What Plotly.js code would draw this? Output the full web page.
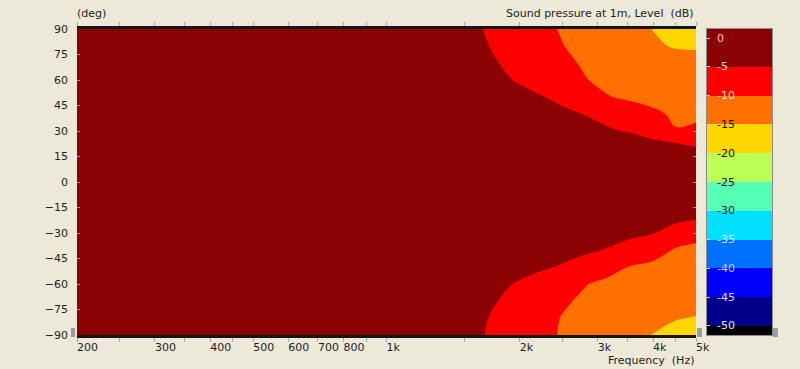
<!DOCTYPE html>
<html><head><meta charset="utf-8">
<script src="https://cdn.plot.ly/plotly-3.0.1.min.js"></script>
<style>html,body{margin:0;padding:0;background:#ece9d8;}#chart{width:800px;height:369px;}</style>
</head><body><div id="chart"></div>
<script>
// Frequencies (Hz) of the grid columns
const freqs = [200, 1000, 1400, 1600, 1800, 2000, 2250, 2500, 2800, 3150, 3550, 4000, 4500, 5000];
// Angles (deg) of the grid rows
const angles = [-90, -80, -70, -60, -50, -40, -30, -20, -10, 0, 10, 20, 30, 40, 50, 60, 70, 80, 90];
// Sound pressure level (dB, normalised) per angle row
const splM90 = [0, -1.0, -3.0, -4.5, -6.0, -7.5, -9.0, -10.4, -11.5, -12.7, -13.9, -15.1, -16.2, -16.8];
const splM80 = [0, -1.0, -2.8, -4.3, -5.7, -7.3, -8.8, -10.2, -11.3, -12.3, -13.2, -14.0, -14.8, -15.2];
const splM70 = [0, -0.8, -2.4, -3.7, -5.1, -6.5, -8.0, -9.5, -10.6, -11.6, -12.4, -13.0, -13.4, -13.6];
const splM60 = [0, -0.6, -1.9, -3.0, -4.3, -5.4, -6.9, -8.3, -9.8, -10.9, -11.7, -12.2, -12.4, -12.3];
const splM50 = [0, -0.5, -1.4, -2.1, -2.9, -3.7, -4.5, -5.4, -6.8, -8.5, -10.2, -11.0, -11.4, -11.3];
const splM40 = [0, -0.4, -1.0, -1.4, -1.9, -2.4, -3.0, -3.6, -4.3, -5.2, -6.6, -8.2, -10.4, -10.3];
const splM30 = [0, -0.3, -0.6, -0.9, -1.2, -1.6, -2.0, -2.5, -3.0, -3.5, -4.1, -4.8, -7.5, -9.57];
const splM20 = [0, -0.2, -0.4, -0.5, -0.7, -0.8, -1.0, -1.2, -1.4, -1.6, -1.8, -2.0, -3.0, -3.56];
const splM10 = [0, -0.1, -0.2, -0.3, -0.4, -0.5, -0.6, -0.7, -0.8, -0.9, -1.0, -1.2, -1.5, -2.0];
const spl0   = [0, 0, -0.1, -0.1, -0.2, -0.2, -0.3, -0.3, -0.4, -0.4, -0.5, -0.5, -0.6, -0.8];
const splP10 = [0, -0.1, -0.2, -0.3, -0.4, -0.5, -0.6, -0.7, -0.8, -0.9, -1.0, -1.1, -1.4, -2.0];
const splP20 = [0, -0.2, -0.4, -0.5, -0.7, -0.8, -1.0, -1.2, -1.4, -1.6, -1.6, -2.2, -3.0, -4.7];
const splP30 = [0, -0.3, -0.7, -1.0, -1.4, -1.9, -2.5, -3.1, -3.7, -4.4, -5.4, -7.6, -9.85, -9.8];
const splP40 = [0, -0.4, -1.0, -1.5, -2.1, -2.7, -3.4, -4.2, -5.1, -6.5, -8.0, -9.4, -10.5, -10.2];
const splP50 = [0, -0.5, -1.4, -2.2, -3.0, -3.9, -4.9, -6.0, -7.6, -9.8, -10.6, -11.0, -11.4, -11.3];
const splP60 = [0, -0.6, -1.9, -3.0, -4.3, -5.4, -6.9, -8.3, -9.8, -10.9, -11.7, -12.2, -12.4, -12.5];
const splP70 = [0, -0.8, -2.3, -3.6, -5.05, -6.4, -7.9, -9.2, -10.4, -11.3, -12.0, -12.5, -12.9, -13.1];
const splP80 = [0, -0.9, -2.7, -4.3, -5.6, -7.0, -8.5, -9.9, -11.2, -12.3, -13.4, -14.3, -15.4, -15.6];
const splP90 = [0, -1.0, -3.0, -4.6, -6.1, -7.5, -9.0, -10.4, -11.5, -12.7, -13.9, -15.1, -16.2, -16.8];

// Contour levels (dB) and the band colours (below -50 ... above -5)
const levels = [-50, -45, -40, -35, -30, -25, -20, -15, -10, -5];
const bandColors = ['#000000', '#00008a', '#0000ff', '#0070ff', '#00e1ff', '#55ffb4', '#bbff55', '#ffd700', '#ff7000', '#ff0000', '#8b0000'];
// Colour bar labels and their text colours
const cbLabels = ['0', '-5', '-10', '-15', '-20', '-25', '-30', '-35', '-40', '-45', '-50'];
const cbLabelValues = [0, -5, -10, -15, -20, -25, -30, -35, -40, -45, -50];
const cbLabelColors = ['#ffc4c4', '#ffd6d6', '#ffe2c0', '#1a1a00', '#111111', '#111111', '#0a2a30', '#cfe6ff', '#c8c8ff', '#dcdcff', '#e6e6ff'];

// X axis ticks
const xTickVals = [200, 250, 300, 350, 400, 450, 500, 600, 700, 800, 900, 1000, 1500, 2000, 2500, 3000, 3500, 4000, 4500, 5000];
const xTickText = ['200', '', '300', '', '400', '', '500', '600', '700', '800', '', '1k', '', '2k', '', '3k', '', '4k', '', '5k'];
const yTickVals = [-90, -75, -60, -45, -30, -15, 0, 15, 30, 45, 60, 75, 90];

const z = [splM90, splM80, splM70, splM60, splM50, splM40, splM30, splM20, splM10, spl0,
           splP10, splP20, splP30, splP40, splP50, splP60, splP70, splP80, splP90];

const nB = bandColors.length - 1;
const colorscale = bandColors.map((c, i) => [i / nB, c]);

const cbMin = -51.6, cbMax = 1.6;
const cbEdges = [cbMin].concat(levels, [cbMax]);
const cbZ = bandColors.map((c, i) => [i]);

const FONT = 'DejaVu Sans, Verdana, sans-serif';
const FS = 11;
const TXT = '#1e1e1e';

const contour = {
  type: 'contour', x: freqs, y: angles, z: z,
  autocontour: false,
  contours: {start: levels[0], end: levels[levels.length - 1], size: 5, coloring: 'fill', showlines: false},
  colorscale: colorscale, showscale: false,
  line: {width: 0, smoothing: 1},
  hoverinfo: 'skip'
};

const cbar = {
  type: 'heatmap', x: [0, 1], y: cbEdges, z: cbZ,
  xaxis: 'x2', yaxis: 'y2',
  colorscale: colorscale, zmin: 0, zmax: nB, showscale: false, hoverinfo: 'skip'
};

const plotW = 701; // width between margins
const mainRight = 619 / plotW;
const cbLeft = 630 / plotW, cbRight = 695 / plotW;

const annotations = [
  {text: '(deg)', xref: 'paper', yref: 'paper', x: 0, y: 1, xanchor: 'left', yanchor: 'middle', yshift: 16, xshift: -2, showarrow: false, font: {family: FONT, size: FS, color: TXT}},
  {text: 'Sound pressure at 1m, Level\u00a0\u00a0(dB)', xref: 'paper', yref: 'paper', x: mainRight, y: 1, xanchor: 'right', yanchor: 'middle', yshift: 16, showarrow: false, font: {family: FONT, size: FS, color: TXT}},
  {text: 'Frequency\u00a0\u00a0(Hz)', xref: 'paper', yref: 'paper', x: mainRight, y: 0, xanchor: 'right', yanchor: 'middle', yshift: -25, showarrow: false, font: {family: FONT, size: FS, color: TXT}}
];
cbLabels.forEach((t, i) => {
  annotations.push({text: t, xref: 'x2 domain', yref: 'y2', x: 0, y: cbLabelValues[i], xanchor: 'left', yanchor: 'middle', xshift: 8, showarrow: false, font: {family: FONT, size: FS, color: cbLabelColors[i]}});
});

const handle = (xa, dx0, dx1) => ({type: 'rect', xref: 'paper', yref: 'paper', xsizemode: 'pixel', ysizemode: 'pixel', xanchor: xa, yanchor: 0, x0: dx0, x1: dx1, y0: -2, y1: 7, fillcolor: '#9c9c9c', line: {width: 0}});

const layout = {
  width: 800, height: 369,
  margin: {l: 77, r: 22, t: 29, b: 34, pad: 0},
  paper_bgcolor: '#ece9d8', plot_bgcolor: '#ece9d8',
  showlegend: false,
  font: {family: FONT, size: FS, color: TXT},
  xaxis: {
    type: 'log', range: [Math.log10(200), Math.log10(5000)], domain: [0, mainRight],
    tickmode: 'array', tickvals: xTickVals, ticktext: xTickText, tickangle: 0,
    ticks: 'outside', ticklen: 4, tickcolor: '#a8a8a8', tickwidth: 1,
    showline: true, linecolor: '#151515', linewidth: 3, mirror: 'ticks',
    showgrid: false, zeroline: false, ticklabelposition: 'outside right', ticklabelshift: -2,
    tickfont: {family: FONT, size: FS, color: TXT}, fixedrange: true
  },
  yaxis: {
    range: [-90, 90], tickmode: 'array', tickvals: yTickVals,
    ticks: 'inside', ticklen: 3, tickcolor: '#e07a7a', mirror: 'ticks',
    showline: false, showgrid: false, zeroline: false, ticklabelstandoff: 8,
    tickfont: {family: FONT, size: FS, color: TXT}, fixedrange: true
  },
  xaxis2: {
    domain: [cbLeft, cbRight], range: [0, 1], anchor: 'y2',
    showticklabels: false, ticks: '', showgrid: false, zeroline: false,
    showline: true, mirror: true, linecolor: '#8a8a8a', linewidth: 1, fixedrange: true
  },
  yaxis2: {
    domain: [0, 1], range: [cbMin, cbMax], anchor: 'x2',
    tickmode: 'array', tickvals: cbLabelValues, showticklabels: false,
    ticks: 'inside', ticklen: 3, tickcolor: '#d8d8d8',
    showgrid: false, zeroline: false, showline: true, mirror: true, linecolor: '#8a8a8a', linewidth: 1, fixedrange: true
  },
  annotations: annotations,
  shapes: [handle(0, -6, -2), handle(mainRight, 1, 6), handle(cbRight, 1, 6)]
};

Plotly.newPlot('chart', [contour, cbar], layout, {displayModeBar: false, staticPlot: true});
</script>
</body></html>
